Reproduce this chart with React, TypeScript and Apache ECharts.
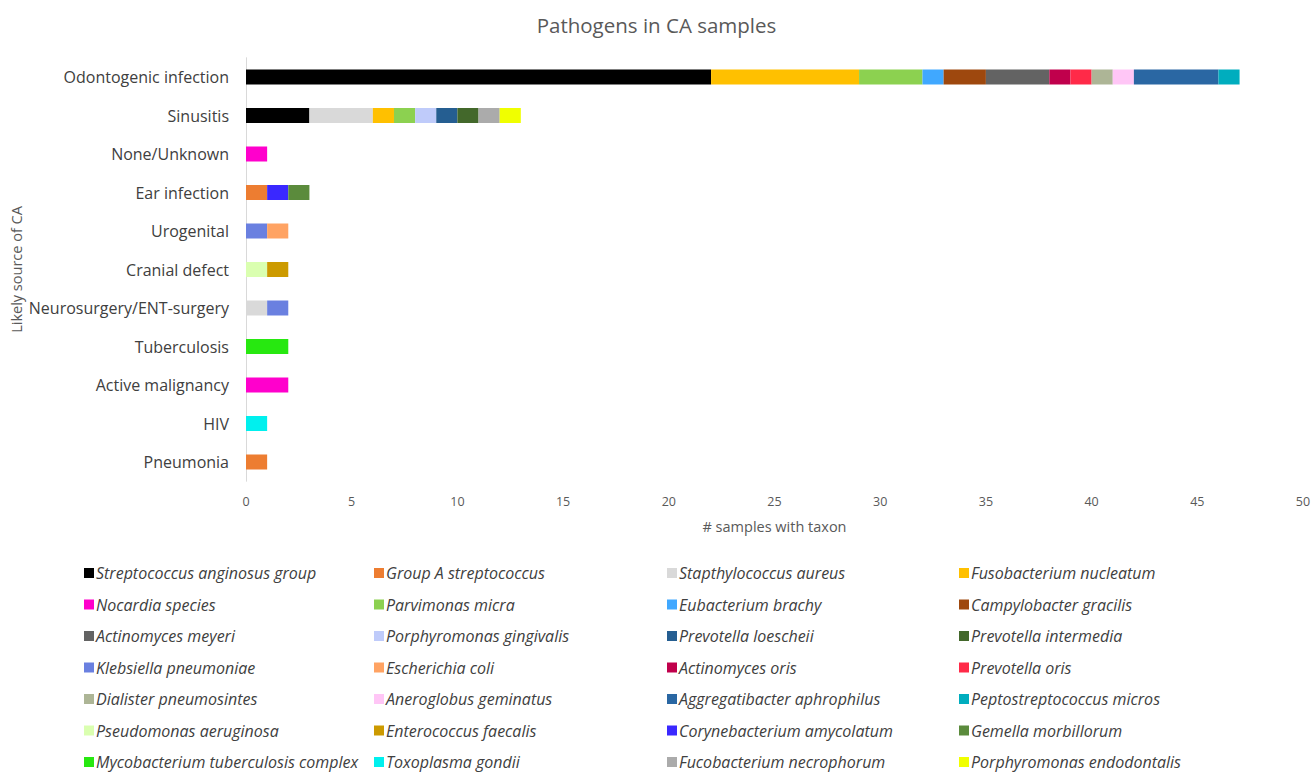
import React, { useEffect, useRef } from "react";
import * as echarts from "echarts";

const categories = [
  "Odontogenic infection",
  "Sinusitis",
  "None/Unknown",
  "Ear infection",
  "Urogenital",
  "Cranial defect",
  "Neurosurgery/ENT-surgery",
  "Tuberculosis",
  "Active malignancy",
  "HIV",
  "Pneumonia",
];

const species = [
  "Streptococcus anginosus group",
  "Group A streptococcus",
  "Stapthylococcus aureus",
  "Fusobacterium nucleatum",
  "Nocardia species",
  "Parvimonas micra",
  "Eubacterium brachy",
  "Campylobacter gracilis",
  "Actinomyces meyeri",
  "Porphyromonas gingivalis",
  "Prevotella loescheii",
  "Prevotella intermedia",
  "Klebsiella pneumoniae",
  "Escherichia coli",
  "Actinomyces oris",
  "Prevotella oris",
  "Dialister pneumosintes",
  "Aneroglobus geminatus",
  "Aggregatibacter aphrophilus",
  "Peptostreptococcus micros",
  "Pseudomonas aeruginosa",
  "Enterococcus faecalis",
  "Corynebacterium amycolatum",
  "Gemella morbillorum",
  "Mycobacterium tuberculosis complex",
  "Toxoplasma gondii",
  "Fucobacterium necrophorum",
  "Porphyromonas endodontalis",
];

const colors = [
  "#000000", "#ED7D31", "#D9D9D9", "#FFC000",
  "#FF00CC", "#8CD150", "#40A8FF", "#9E480E",
  "#636363", "#BFCBFA", "#255E91", "#43682B",
  "#6A80E0", "#FFA363", "#C0004C", "#FF2A48",
  "#ADB596", "#FFC6F6", "#2A67A3", "#00ADBE",
  "#DAFFB0", "#CC9A00", "#3A28FF", "#5B8B3C",
  "#27E810", "#00F0EE", "#ABABAB", "#F0FF00",
];

// counts per species, in category order above
const counts = [
  [22, 3, 0, 0, 0, 0, 0, 0, 0, 0, 0],
  [0, 0, 0, 1, 0, 0, 0, 0, 0, 0, 1],
  [0, 3, 0, 0, 0, 0, 1, 0, 0, 0, 0],
  [7, 1, 0, 0, 0, 0, 0, 0, 0, 0, 0],
  [0, 0, 1, 0, 0, 0, 0, 0, 2, 0, 0],
  [3, 1, 0, 0, 0, 0, 0, 0, 0, 0, 0],
  [1, 0, 0, 0, 0, 0, 0, 0, 0, 0, 0],
  [2, 0, 0, 0, 0, 0, 0, 0, 0, 0, 0],
  [3, 0, 0, 0, 0, 0, 0, 0, 0, 0, 0],
  [0, 1, 0, 0, 0, 0, 0, 0, 0, 0, 0],
  [0, 1, 0, 0, 0, 0, 0, 0, 0, 0, 0],
  [0, 1, 0, 0, 0, 0, 0, 0, 0, 0, 0],
  [0, 0, 0, 0, 1, 0, 1, 0, 0, 0, 0],
  [0, 0, 0, 0, 1, 0, 0, 0, 0, 0, 0],
  [1, 0, 0, 0, 0, 0, 0, 0, 0, 0, 0],
  [1, 0, 0, 0, 0, 0, 0, 0, 0, 0, 0],
  [1, 0, 0, 0, 0, 0, 0, 0, 0, 0, 0],
  [1, 0, 0, 0, 0, 0, 0, 0, 0, 0, 0],
  [4, 0, 0, 0, 0, 0, 0, 0, 0, 0, 0],
  [1, 0, 0, 0, 0, 0, 0, 0, 0, 0, 0],
  [0, 0, 0, 0, 0, 1, 0, 0, 0, 0, 0],
  [0, 0, 0, 0, 0, 1, 0, 0, 0, 0, 0],
  [0, 0, 0, 1, 0, 0, 0, 0, 0, 0, 0],
  [0, 0, 0, 1, 0, 0, 0, 0, 0, 0, 0],
  [0, 0, 0, 0, 0, 0, 0, 2, 0, 0, 0],
  [0, 0, 0, 0, 0, 0, 0, 0, 0, 1, 0],
  [0, 1, 0, 0, 0, 0, 0, 0, 0, 0, 0],
  [0, 1, 0, 0, 0, 0, 0, 0, 0, 0, 0],
];

const xMin = 0;
const xMax = 50;
const xStep = 5;

const FONT = "'Open Sans', 'Noto Sans', sans-serif";

export default function App() {
  const ref = useRef<HTMLDivElement>(null);

  useEffect(() => {
    if (!ref.current) return;
    const chart = echarts.init(ref.current, null, { renderer: "svg" });

    const legendCols = [84, 374, 667, 959];
    const legends = legendCols.map((left, c) => ({
      orient: "vertical",
      left,
      top: 564,
      height: 240,
      padding: 0,
      itemWidth: 10,
      itemHeight: 10,
      itemGap: 13.5,
      icon: "rect",
      selectedMode: false,
      data: species.filter((_, i) => i % 4 === c),
      textStyle: {
        fontFamily: FONT,
        fontStyle: "italic",
        fontSize: 16,
        lineHeight: 18,
        color: "#404040",
        padding: [0, 0, 0, -3],
      },
    }));

    chart.setOption({
      animation: false,
      backgroundColor: "#ffffff",
      title: {
        text: "Pathogens in CA samples",
        left: "center",
        top: 9,
        textStyle: {
          fontFamily: FONT,
          fontSize: 20.5,
          fontWeight: "normal",
          color: "#595959",
        },
      },
      legend: legends,
      grid: {
        left: 246,
        right: 10,
        top: 57.75,
        bottom: 293.75,
        containLabel: false,
        outerBoundsMode: "none",
      },
      xAxis: {
        type: "value",
        min: xMin,
        max: xMax,
        interval: xStep,
        name: "# samples with taxon",
        nameLocation: "middle",
        nameGap: 38,
        nameMoveOverlap: false,
        nameTextStyle: { fontFamily: FONT, fontSize: 14.5, color: "#595959" },
        axisLine: { show: false },
        axisTick: { show: false },
        splitLine: { show: false },
        axisLabel: {
          fontFamily: FONT,
          fontSize: 12.5,
          color: "#595959",
          margin: 14,
        },
      },
      yAxis: {
        type: "category",
        data: categories,
        inverse: true,
        name: "Likely source of CA",
        nameLocation: "middle",
        nameRotate: 90,
        nameGap: 222,
        nameMoveOverlap: false,
        nameTextStyle: { fontFamily: FONT, fontSize: 14.5, color: "#595959" },
        axisLine: { show: true, lineStyle: { color: "#D9D9D9", width: 1 } },
        axisTick: { show: false },
        axisLabel: {
          fontFamily: FONT,
          fontSize: 16,
          color: "#404040",
          margin: 17,
        },
      },
      series: species.map((name, i) => ({
        name,
        type: "bar",
        stack: "total",
        barWidth: 15,
        itemStyle: { color: colors[i] },
        emphasis: { disabled: true },
        data: counts[i].map((v) => (v === 0 ? null : v)),
      })),
    });

    return () => chart.dispose();
  }, []);

  return (
    <div
      ref={ref}
      style={{ position: "fixed", left: 0, top: 0, width: 1313, height: 775 }}
    />
  );
}
